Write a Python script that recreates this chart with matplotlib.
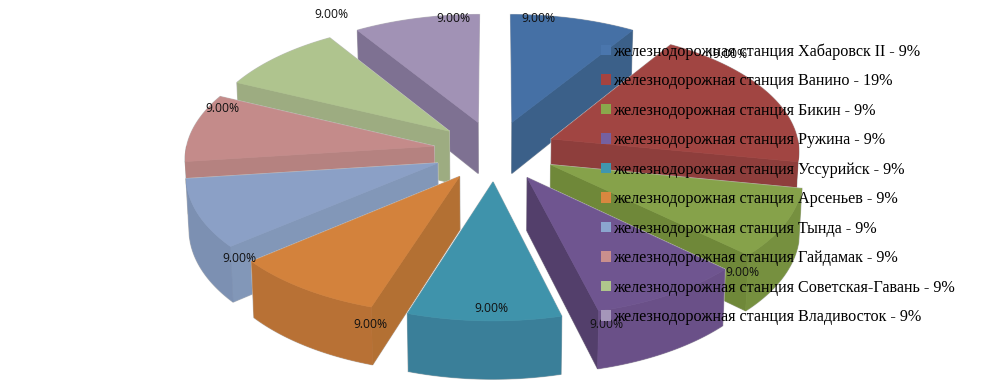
import numpy as np
import matplotlib
matplotlib.use('Agg')
import matplotlib.pyplot as plt
from matplotlib.patches import Polygon, Patch

stations = ['Хабаровск II', 'Ванино', 'Бикин', 'Ружина', 'Уссурийск', 'Арсеньев',
            'Тында', 'Гайдамак', 'Советская-Гавань', 'Владивосток']
values = [9, 19, 9, 9, 9, 9, 9, 9, 9, 9]

top_colors = ['#4570a5', '#a14542', '#86a24a', '#6f5590', '#3f93ab',
              '#d3823c', '#8ba0c6', '#c48b8a', '#afc48e', '#a192b5']
rim_colors = ['#3f6694', '#8e3e3c', '#76903f', '#6a5088', '#3a7f99',
              '#b87135', '#7c90b2', '#b58280', '#9dac81', '#7e7192']
cut_colors = ['#3b6089', '#8e3e3c', '#6f8839', '#533f6b', '#37788f',
              '#b37033', '#8297b8', '#b58280', '#9dac81', '#7e7192']
swatch_colors = ['#4a76ad', '#a5433f', '#8aa84c', '#7560a0', '#4096ae',
                 '#d9873f', '#8ba6cf', '#c98f8d', '#afc68c', '#a596ba']

# label anchors, in pixels, same order as the slices
label_x = [538, 728, 742, 606, 491, 370, 239, 222, 331, 453]
label_y = [19, 55, 272, 324, 309, 324, 258, 109, 14, 19]

CX, CY = 495, 151
A, B = 248, 121.5     # screen size of the unit circle
K = 0.085             # perspective
EXPLODE = 0.25
DEPTH = 52
EDGE = '#c6c6c6'


def project(u, v, drop=0.0):
    w = 1 / (1 + K * v)
    # the underside sits a little further from the camera
    shrink = 1 - 0.01 * drop
    return np.column_stack([CX + A * u * w * shrink, CY - B * v * w + drop * DEPTH * w])


fig = plt.figure(figsize=(9.91, 3.87), dpi=100)
ax = fig.add_axes([0, 0, 1, 1])
ax.set_xlim(0, 991)
ax.set_ylim(387, 0)
ax.axis('off')

angles = np.cumsum([0] + values) / sum(values) * 2 * np.pi
mids = (angles[:-1] + angles[1:]) / 2
# back slices first
order = np.argsort(-np.cos(mids))


def add_face(pts, color, z, base):
    ax.add_patch(Polygon(pts, closed=True, facecolor=EDGE, edgecolor=EDGE, lw=1.1, zorder=base - 0.25))
    ax.add_patch(Polygon(pts, closed=True, facecolor=color, edgecolor=color, lw=0.4, zorder=z))


for n, i in enumerate(order):
    t1, t2 = angles[i], angles[i + 1]
    du, dv = EXPLODE * np.sin(mids[i]), EXPLODE * np.cos(mids[i])
    arc = np.linspace(t1, t2, 60)
    au, av = du + np.sin(arc), dv + np.cos(arc)
    z = 2 + n

    for t, visible in ((t1, np.sin(t1) < -1e-6), (t2, np.sin(t2) > 1e-6)):
        if visible:
            eu, ev = np.array([du, du + np.sin(t)]), np.array([dv, dv + np.cos(t)])
            quad = np.vstack([project(eu, ev), project(eu, ev, 1)[::-1]])
            add_face(quad, cut_colors[i], z, z)

    front = np.cos(arc) < 0
    if front.any():
        rim = np.vstack([project(au[front], av[front]), project(au[front], av[front], 1)[::-1]])
        add_face(rim, rim_colors[i], z, z)

    top = np.vstack([project(np.array([du]), np.array([dv])), project(au, av)])
    add_face(top, top_colors[i], z + 0.5, z)

for i, val in enumerate(values):
    ax.text(label_x[i], label_y[i], f'{val:.2f}%', ha='center', va='center',
            fontsize=8.7, family='Open Sans', color='#111111', zorder=30)

handles = [Patch(facecolor=swatch_colors[i], edgecolor='none',
                 label=f'железнодорожная станция {stations[i]} - {values[i]}%')
           for i in range(len(values))]
leg = ax.legend(handles=handles, loc='upper left', bbox_to_anchor=(601 / 991, 1 - 43 / 387),
                frameon=False, prop={'family': 'Liberation Serif', 'size': 11.65},
                handlelength=0.62, handleheight=0.62, handletextpad=0.125,
                labelspacing=0.837, borderpad=0, borderaxespad=0)
leg.set_zorder(40)

fig.savefig('out.png', dpi=100)
